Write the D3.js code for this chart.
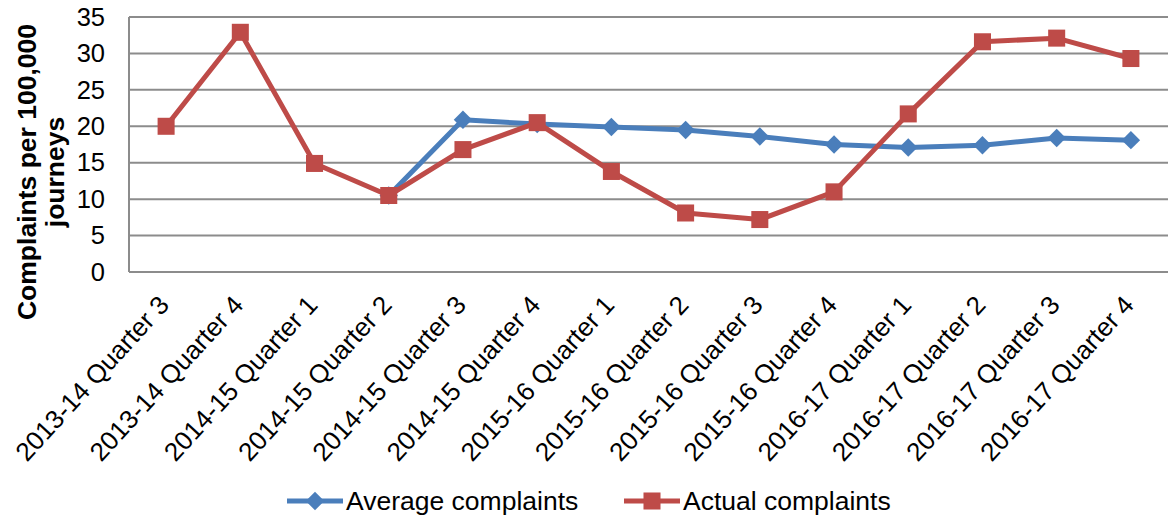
<!DOCTYPE html>
<html>
<head>
<meta charset="utf-8">
<script src="https://cdn.jsdelivr.net/npm/d3@7"></script>
<style>
  html, body { margin: 0; padding: 0; background: #fff; }
  svg { display: block; font-family: "Liberation Sans", Arial, sans-serif; }
</style>
</head>
<body>
<svg id="chart" width="1168" height="519"></svg>
<script>
// Quarterly complaints per 100,000 journeys
const categories = [
  "2013-14 Quarter 3", "2013-14 Quarter 4",
  "2014-15 Quarter 1", "2014-15 Quarter 2", "2014-15 Quarter 3", "2014-15 Quarter 4",
  "2015-16 Quarter 1", "2015-16 Quarter 2", "2015-16 Quarter 3", "2015-16 Quarter 4",
  "2016-17 Quarter 1", "2016-17 Quarter 2", "2016-17 Quarter 3", "2016-17 Quarter 4"
];
const averageComplaints = [null, null, null, 10.5, 20.9, 20.3, 19.9, 19.5, 18.6, 17.5, 17.1, 17.4, 18.4, 18.1];
const actualComplaints = [20.0, 32.9, 14.9, 10.5, 16.8, 20.5, 13.8, 8.1, 7.2, 11.0, 21.7, 31.6, 32.1, 29.3];
const yTicks = [0, 5, 10, 15, 20, 25, 30, 35];
const yTitleLines = ["Complaints per 100,000", "journeys"];

const series = [
  { name: "Average complaints", values: averageComplaints, color: "#4a7ebb", marker: "diamond" },
  { name: "Actual complaints", values: actualComplaints, color: "#be4b48", marker: "square" }
];

const svg = d3.select("#chart");
const plot = { left: 129, right: 1168, top: 17, bottom: 272 };
const fontFamily = "'Liberation Sans', Arial, sans-serif";

const x = d3.scalePoint().domain(categories).range([plot.left, plot.right]).padding(0.5);
const y = d3.scaleLinear().domain([0, 35]).range([plot.bottom, plot.top]);

// Horizontal gridlines
svg.append("g")
  .selectAll("line")
  .data(yTicks)
  .join("line")
  .attr("x1", plot.left).attr("x2", plot.right)
  .attr("y1", d => y(d)).attr("y2", d => y(d))
  .attr("stroke", "#8c8c8c").attr("stroke-width", 2);

// Left axis line
svg.append("line")
  .attr("x1", plot.left).attr("x2", plot.left)
  .attr("y1", plot.top).attr("y2", plot.bottom)
  .attr("stroke", "#8c8c8c").attr("stroke-width", 2);

// Y axis tick labels
const yAxis = svg.append("g")
  .attr("transform", `translate(${plot.left},0)`)
  .call(d3.axisLeft(y).tickValues(yTicks).tickSize(0).tickPadding(24));
yAxis.select(".domain").remove();
yAxis.selectAll("text")
  .attr("font-size", 25.5).attr("fill", "#000")
  .attr("font-family", fontFamily);

// X axis category labels, rotated
const xAxis = svg.append("g")
  .attr("transform", `translate(0,${plot.bottom})`)
  .call(d3.axisBottom(x).tickSize(0).tickPadding(0));
xAxis.select(".domain").remove();
xAxis.selectAll("text")
  .attr("font-size", 26).attr("fill", "#000")
  .attr("font-family", fontFamily)
  .attr("text-anchor", "end")
  .attr("dy", null).attr("y", 0)
  .attr("transform", "translate(4,34) rotate(-47.5)");

// Y axis title
const yTitle = svg.append("text")
  .attr("transform", "translate(36,172) rotate(-90)")
  .attr("text-anchor", "middle")
  .attr("font-size", 26.5).attr("font-weight", "bold").attr("fill", "#000");
yTitle.selectAll("tspan")
  .data(yTitleLines)
  .join("tspan")
  .attr("x", 0)
  .attr("dy", (d, i) => i === 0 ? 0 : 28)
  .text(d => d);

// Series lines
const line = d3.line()
  .defined(d => d.v !== null)
  .x(d => x(d.c)).y(d => y(d.v));

const symbolFor = m => m === "diamond"
  ? d3.symbol().type(d3.symbolSquare).size(170)
  : d3.symbol().type(d3.symbolSquare).size(290);

series.forEach(s => {
  const pts = categories.map((c, i) => ({ c, v: s.values[i] }));
  svg.append("path")
    .datum(pts)
    .attr("d", line)
    .attr("fill", "none")
    .attr("stroke", s.color)
    .attr("stroke-width", 5)
    .attr("stroke-linejoin", "round");
  svg.append("g")
    .selectAll("path")
    .data(pts.filter(d => d.v !== null))
    .join("path")
    .attr("d", symbolFor(s.marker))
    .attr("transform", d => `translate(${x(d.c)},${y(d.v)})` + (s.marker === "diamond" ? " rotate(45)" : ""))
    .attr("fill", s.color);
});

// Legend
const legendItems = [
  { s: series[0], x0: 287 },
  { s: series[1], x0: 624 }
];
const legendY = 501;
legendItems.forEach(({ s, x0 }) => {
  const g = svg.append("g");
  g.append("line")
    .attr("x1", x0).attr("x2", x0 + 56)
    .attr("y1", legendY).attr("y2", legendY)
    .attr("stroke", s.color).attr("stroke-width", 5);
  g.append("path")
    .attr("d", symbolFor(s.marker))
    .attr("transform", `translate(${x0 + 28},${legendY})` + (s.marker === "diamond" ? " rotate(45)" : ""))
    .attr("fill", s.color);
  g.append("text")
    .attr("x", x0 + 59).attr("y", legendY + 9)
    .attr("font-size", 26.5).attr("fill", "#000")
    .attr("font-family", fontFamily)
    .text(s.name);
});
</script>
</body>
</html>
